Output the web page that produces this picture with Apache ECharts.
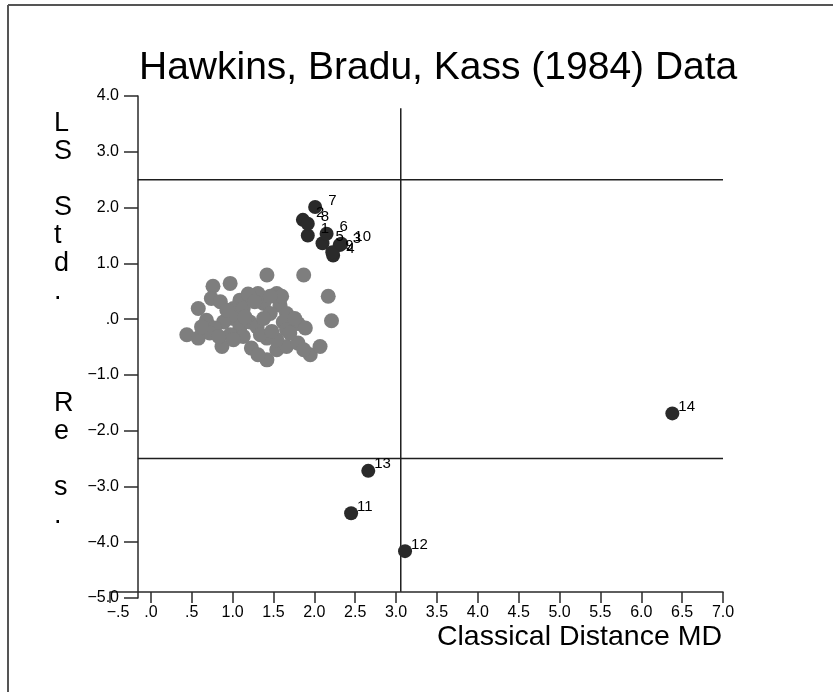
<!DOCTYPE html>
<html>
<head>
<meta charset="utf-8">
<script src="https://cdn.jsdelivr.net/npm/echarts@6/dist/echarts.min.js"></script>
<style>
  html, body { margin: 0; padding: 0; background: #ffffff; }
  #chart { width: 833px; height: 692px; }
</style>
</head>
<body>
<div id="chart"></div>
<script>
// Hawkins, Bradu & Kass (1984): classical Mahalanobis distance vs. LS standardized residual
const chartTitle = 'Hawkins, Bradu, Kass (1984) Data';
const xAxisTitle = 'Classical Distance MD';
const yAxisTitle = ['L', 'S', '', 'S', 't', 'd', '.', '', '', '', 'R', 'e', '', 's', '.'];

const xTickValues = [-0.5, 0, 0.5, 1, 1.5, 2, 2.5, 3, 3.5, 4, 4.5, 5, 5.5, 6, 6.5, 7];
const xTickLabels = ['\u2212.5', '.0', '.5', '1.0', '1.5', '2.0', '2.5', '3.0', '3.5', '4.0', '4.5', '5.0', '5.5', '6.0', '6.5', '7.0'];
const yTickValues = [-5, -4, -3, -2, -1, 0, 1, 2, 3, 4];
const yTickLabels = ['\u22125.0', '\u22124.0', '\u22123.0', '\u22122.0', '\u22121.0', '.0', '1.0', '2.0', '3.0', '4.0'];

// observations 1-14 (labelled)
const outlierIds = ['1', '2', '3', '4', '5', '6', '7', '8', '9', '10', '11', '12', '13', '14'];
const outlierMD  = [1.92, 1.86, 2.31, 2.23, 2.10, 2.15, 2.01, 1.92, 2.22, 2.33, 2.45, 3.11, 2.66, 6.38];
const outlierRes = [1.50, 1.78, 1.33, 1.14, 1.36, 1.53, 2.01, 1.71, 1.20, 1.35, -3.48, -4.16, -2.72, -1.69];

// observations 15-75
const regularMD = [
  1.42, 1.87, 0.97, 0.76, 2.17, 2.21, 0.58, 0.44, 0.58, 0.74,
  0.85, 0.68, 0.87, 1.95, 2.07, 1.42, 1.31, 1.54, 1.09, 1.21,
  1.01, 1.13, 1.38, 1.58, 1.66, 1.46, 1.01, 1.09, 1.21, 0.89,
  0.78, 0.97, 1.13, 1.30, 1.38, 1.62, 1.66, 1.80, 1.89, 1.01,
  1.23, 1.42, 1.54, 1.66, 1.80, 1.31, 1.87, 1.54, 0.93, 0.72,
  1.19, 1.60, 1.46, 1.70, 1.15, 1.34, 0.83, 0.62, 1.48, 1.27,
  1.76
];
const regularRes = [
  0.79, 0.79, 0.64, 0.59, 0.41, -0.03, 0.19, -0.28, -0.34, 0.37,
  0.31, -0.02, -0.49, -0.64, -0.49, -0.73, 0.46, 0.46, 0.34, 0.40,
  0.19, 0.19, 0.28, 0.25, 0.10, 0.10, 0.01, -0.14, -0.05, -0.05,
  -0.16, -0.28, -0.31, -0.14, 0.01, -0.05, -0.19, -0.08, -0.16, -0.37,
  -0.52, -0.34, -0.55, -0.49, -0.43, -0.64, -0.55, -0.37, 0.16, -0.25,
  0.45, 0.41, 0.41, -0.25, 0.04, -0.28, -0.31, -0.14, -0.22, 0.31,
  0.01
];

// cut-offs: +/-2.5 for residuals, sqrt(chi2(3, .975)) for distances
const resCutoff = 2.5;
const mdCutoff = 3.0575;
const cutoffLineXRange = [-0.16, 7.0];
const cutoffLineYRange = [-4.89, 3.78];

const fontFamily = '"Liberation Sans", Arial, Helvetica, sans-serif';

function lookup(values, labels) {
  return function (v) {
    for (let i = 0; i < values.length; i++) {
      if (Math.abs(values[i] - v) < 1e-6) return labels[i];
    }
    return '';
  };
}

const xLabelText = lookup(xTickValues, xTickLabels);

const chart = echarts.init(document.getElementById('chart'), null, { renderer: 'canvas' });

const lineStyle = { color: '#1e1e1e', width: 1.5 };
const refSeries = (data) => ({
  type: 'line',
  data: data,
  symbol: 'none',
  silent: true,
  z: 1,
  lineStyle: lineStyle,
  animation: false
});

// id labels of the crowded group sit a little further out than the isolated ones
const labelPosCrowded = [20, -7];
const labelPosIsolated = [13, -7];

chart.setOption({
  backgroundColor: '#ffffff',
  animation: false,
  title: {
    text: chartTitle,
    left: 134,
    top: 44,
    textStyle: { fontFamily: fontFamily, fontSize: 39, fontWeight: 'normal', color: '#000000' }
  },
  grid: { left: 110, right: 110, top: 96, bottom: 94, containLabel: false },
  xAxis: {
    type: 'value',
    min: -0.5, max: 7, interval: 0.5,
    offset: -6,
    axisLine: { onZero: false, lineStyle: { color: '#2a2a2a', width: 1.5 } },
    axisTick: { show: true, length: 11, lineStyle: { color: '#2a2a2a', width: 1.5 } },
    axisLabel: {
      margin: 13,
      fontFamily: fontFamily, fontSize: 16, color: '#000000',
      formatter: function (v) {
        const t = xLabelText(v);
        return v < -0.25 ? '{first|' + t + '}' : t;
      },
      rich: {
        first: { fontFamily: fontFamily, fontSize: 16, color: '#000000', padding: [0, 0, 0, 16] }
      }
    },
    splitLine: { show: false }
  },
  yAxis: {
    type: 'value',
    min: -5, max: 4, interval: 1,
    offset: -28,
    axisLine: { onZero: false, lineStyle: { color: '#2a2a2a', width: 1.5 } },
    axisTick: { show: true, length: 14, lineStyle: { color: '#2a2a2a', width: 1.5 } },
    axisLabel: {
      margin: 19,
      fontFamily: fontFamily, fontSize: 16, color: '#000000',
      formatter: lookup(yTickValues, yTickLabels)
    },
    splitLine: { show: false }
  },
  graphic: [
    {
      type: 'line', silent: true,
      shape: { x1: 8, y1: 5, x2: 8, y2: 692 },
      style: { stroke: '#555555', lineWidth: 2 }
    },
    {
      type: 'line', silent: true,
      shape: { x1: 8, y1: 5, x2: 833, y2: 5 },
      style: { stroke: '#555555', lineWidth: 2 }
    },
    {
      type: 'text', silent: true,
      left: 54, top: 110,
      style: {
        text: yAxisTitle.join('\n'),
        fontFamily: fontFamily, fontSize: 27, lineHeight: 28,
        fill: '#000000', align: 'center'
      }
    },
    {
      type: 'text', silent: true,
      right: 111, top: 623,
      style: {
        text: xAxisTitle,
        fontFamily: fontFamily, fontSize: 28.5, fill: '#000000'
      }
    }
  ],
  series: [
    refSeries([[cutoffLineXRange[0], resCutoff], [cutoffLineXRange[1], resCutoff]]),
    refSeries([[cutoffLineXRange[0], -resCutoff], [cutoffLineXRange[1], -resCutoff]]),
    refSeries([[mdCutoff, cutoffLineYRange[0]], [mdCutoff, cutoffLineYRange[1]]]),
    {
      type: 'scatter',
      z: 2,
      symbol: 'circle',
      symbolSize: 15,
      itemStyle: { color: '#7e7e7e', opacity: 1 },
      data: regularMD.map((x, i) => [x, regularRes[i]])
    },
    {
      type: 'scatter',
      z: 3,
      symbol: 'circle',
      symbolSize: 14,
      itemStyle: { color: '#2a2a2a', opacity: 1 },
      label: {
        show: true,
        position: labelPosIsolated,
        fontFamily: fontFamily, fontSize: 15, color: '#000000',
        formatter: (p) => outlierIds[p.dataIndex]
      },
      labelLayout: { hideOverlap: false },
      data: outlierMD.map((x, i) => ({
        value: [x, outlierRes[i]],
        label: { position: i < 10 ? labelPosCrowded : labelPosIsolated }
      }))
    }
  ]
});
</script>
</body>
</html>
